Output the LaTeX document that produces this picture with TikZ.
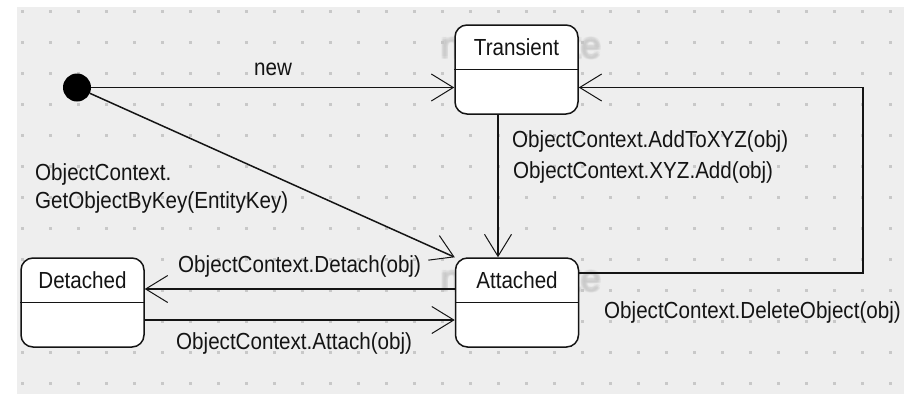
\documentclass[tikz,border=0pt]{standalone}
\usepackage{fontspec}
\setmainfont{Liberation Sans}
\usetikzlibrary{arrows.meta,calc}
\definecolor{canvas}{RGB}{238,238,238}
\definecolor{griddot}{RGB}{200,200,200}
\definecolor{ghost}{RGB}{196,196,196}
\definecolor{ink}{RGB}{20,20,20}
% slightly tall lettering
\newcommand{\tall}[1]{\scalebox{1}[1.13]{#1}}

\begin{document}
\begin{tikzpicture}[x=1pt,y=-1pt,
  statebox/.style={draw=ink, line width=1.5pt, fill=white, rounded corners=12pt,
    minimum width=123pt, minimum height=89pt, inner sep=0pt},
  statename/.style={font=\fontsize{20.6}{24}\selectfont, text=ink, inner sep=0pt},
  lbl/.style={font=\fontsize{20.6}{24}\selectfont, text=ink, inner sep=0pt, anchor=west},
  ghosttext/.style={font=\fontsize{36}{40}\selectfont, text=ghost, text opacity=0.2,
    inner sep=0pt, anchor=base},
  trans/.style={draw=ink, line width=1.5pt,
    -{Straight Barb[length=22pt,width=27pt,line width=1pt]}},
  divider/.style={draw=ink, line width=1.5pt},
]
% canvas with dot grid
\useasboundingbox (0,0) rectangle (904,394);
\fill[white] (0,0) rectangle (904,394);
\fill[canvas] (17,7) rectangle (904,394);
\foreach \i in {0,...,31}
  \foreach \j in {0,...,12}
    \fill[griddot] ({22+28*\i-1.5},{11+31*\j-1.5}) rectangle ++(3,3);

% faint, soft captions behind the states (stacked shifted copies)
\foreach \dx/\dy [count=\k] in {0/0,-1.5/0,1.5/0,0/-1.5,0/1.5,-1.5/-1.5,1.5/1.5,-1.5/1.5,1.5/-1.5} {
  \node[ghosttext] (ghost-tr-\k) at ({521+\dx},{58+\dy}) {new State};
  \node[ghosttext] (ghost-at-\k) at ({521+\dx},{291+\dy}) {new State};
}

% states
\node[statebox] (tr) at (516.5,69.5) {};
\node[statebox] (at) at (517,302.5) {};
\node[statebox] (de) at (82.5,302.5) {};
\draw[divider] (tr.west) -- (tr.east);
\draw[divider] (at.west) -- (at.east);
\draw[divider] (de.west) -- (de.east);
\node[statename] (tr-name) at ($(tr.center)+(0,-22.5)$) {\tall{Transient}};
\node[statename] (at-name) at ($(at.center)+(0,-22.5)$) {\tall{Attached}};
\node[statename] (de-name) at ($(de.center)+(0,-22.5)$) {\tall{Detached}};

% initial pseudo-state
\node[circle, fill=black, minimum size=28pt, inner sep=0pt] (init) at (77,87.5) {};

% transitions
\draw[trans] (init) -- (init -| tr.west);
\node[lbl] (lbl-new) at (254,69) {\tall{new}};

\draw[trans] (init) -- (at.north west);
\node[lbl] (lbl-get1) at (35,174) {\tall{ObjectContext.}};
\node[lbl] (lbl-get2) at (35,202) {\tall{GetObjectByKey(EntityKey)}};

\coordinate (tr-out) at ($(tr.south)+(-18.5,0)$);
\draw[trans] (tr-out) -- (tr-out |- at.north);
\node[lbl] (lbl-add1) at (512,141) {\tall{ObjectContext.AddToXYZ(obj)}};
\node[lbl] (lbl-add2) at (513,172) {\tall{ObjectContext.XYZ.Add(obj)}};

\coordinate (at-out) at ($(at.east)+(0,-29.5)$);
\coordinate (loop-corner) at (863,87.5);
\draw[trans] (at-out) -| (loop-corner) -- (loop-corner -| tr.east);
\node[lbl] (lbl-del) at (604,312) {\tall{ObjectContext.DeleteObject(obj)}};

\draw[trans] ($(at.west)+(0,-13.5)$) -- ($(de.east)+(0,-13.5)$);
\node[lbl] (lbl-detach) at (178,266) {\tall{ObjectContext.Detach(obj)}};

\draw[trans] ($(de.east)+(0,17.5)$) -- ($(at.west)+(0,17.5)$);
\node[lbl] (lbl-attach) at (176,343) {\tall{ObjectContext.Attach(obj)}};
\end{tikzpicture}
\end{document}
